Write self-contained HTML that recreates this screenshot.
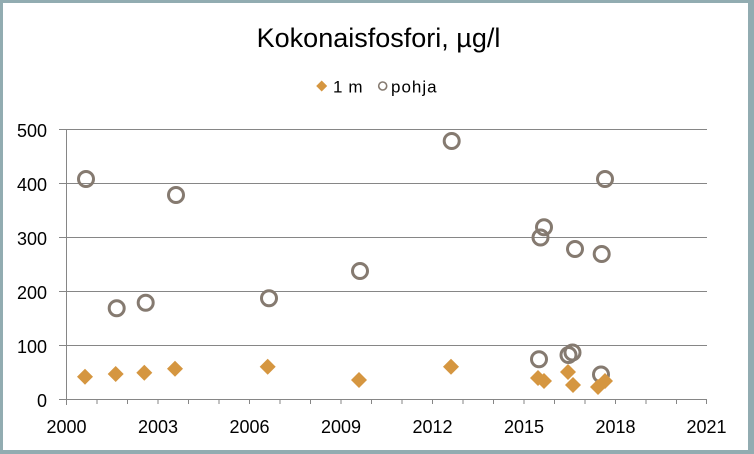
<!DOCTYPE html>
<html><head><meta charset="utf-8"><style>
html,body{margin:0;padding:0;background:#fff;}
svg{display:block;}
text{font-family:"Liberation Sans",Arial,sans-serif;fill:#000;}
</style></head><body>
<svg width="754" height="454" viewBox="0 0 754 454" xmlns="http://www.w3.org/2000/svg">
<rect x="0" y="0" width="754" height="454" fill="#92acb1"/>
<rect x="3" y="3" width="745" height="447" fill="#ffffff"/>
<text x="378.5" y="47" font-size="27" text-anchor="middle">Kokonaisfosfori, µg/l</text>
<path d="M321.7 80.5 L327.2 86 L321.7 91.5 L316.2 86 Z" fill="#d59640"/>
<text x="333" y="92.7" font-size="17" letter-spacing="0.6">1 m</text>
<circle cx="382.7" cy="86" r="4" fill="none" stroke="#857a70" stroke-width="1.6"/>
<text x="391" y="92.7" font-size="17" letter-spacing="1">pohja</text>
<g stroke="#868686" stroke-width="1" fill="none">
<path d="M59 129.5H707M59 183.5H707M59 237.5H707M59 291.5H707M59 345.5H707M59 399.5H707"/>
<path d="M66.5 129V405"/>
<path d="M97 399v5M127.5 399v5M158 399v5M188.5 399v5M219 399v5M249.5 399v5M280 399v5M310.5 399v5M341 399v5M371.5 399v5M402 399v5M432.5 399v5M463 399v5M493.5 399v5M524 399v5M554.5 399v5M585 399v5M615.5 399v5M646 399v5M676.5 399v5M706.5 399v5"/>
</g>
<g font-size="18" text-anchor="end">
<text x="47" y="137">500</text>
<text x="47" y="191">400</text>
<text x="47" y="245">300</text>
<text x="47" y="299">200</text>
<text x="47" y="353">100</text>
<text x="47" y="407">0</text>
</g>
<g font-size="18" text-anchor="middle">
<text x="66.5" y="433">2000</text>
<text x="158" y="433">2003</text>
<text x="249.5" y="433">2006</text>
<text x="341" y="433">2009</text>
<text x="432.5" y="433">2012</text>
<text x="524" y="433">2015</text>
<text x="615.5" y="433">2018</text>
<text x="706.5" y="433">2021</text>
</g>
<g fill="none" stroke="#857a70" stroke-width="3">
<circle cx="86" cy="179" r="7.5"/>
<circle cx="116.7" cy="308.3" r="7.5"/>
<circle cx="145.7" cy="302.7" r="7.5"/>
<circle cx="176" cy="195" r="7.5"/>
<circle cx="269" cy="298.3" r="7.5"/>
<circle cx="360" cy="271" r="7.5"/>
<circle cx="451.7" cy="141" r="7.5"/>
<circle cx="540.5" cy="237.5" r="7.5"/>
<circle cx="544" cy="227.3" r="7.5"/>
<circle cx="539" cy="359.3" r="7.5"/>
<circle cx="575" cy="249" r="7.5"/>
<circle cx="568.5" cy="355" r="7.5"/>
<circle cx="572.5" cy="352.5" r="7.5"/>
<circle cx="601.7" cy="254" r="7.5"/>
<circle cx="605" cy="179" r="7.5"/>
<circle cx="601" cy="374.5" r="7.5"/>
</g>
<g fill="#d59640">
<path d="M85 368.7l8 8l-8 8l-8-8Z"/>
<path d="M115.7 366l8 8l-8 8l-8-8Z"/>
<path d="M144.3 364.7l8 8l-8 8l-8-8Z"/>
<path d="M175 360.7l8 8l-8 8l-8-8Z"/>
<path d="M267.7 358.7l8 8l-8 8l-8-8Z"/>
<path d="M359 372l8 8l-8 8l-8-8Z"/>
<path d="M451 358.7l8 8l-8 8l-8-8Z"/>
<path d="M538 370l8 8l-8 8l-8-8Z"/>
<path d="M544 373l8 8l-8 8l-8-8Z"/>
<path d="M568 364l8 8l-8 8l-8-8Z"/>
<path d="M573 377l8 8l-8 8l-8-8Z"/>
<path d="M598 379l8 8l-8 8l-8-8Z"/>
<path d="M605 373l8 8l-8 8l-8-8Z"/>
</g>
</svg>
</body></html>
